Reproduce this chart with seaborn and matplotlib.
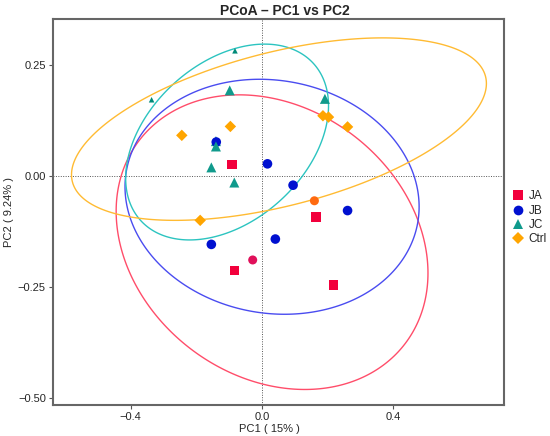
import numpy as np
import pandas as pd
import seaborn as sns
import matplotlib
matplotlib.use("Agg")
import matplotlib.pyplot as plt
from matplotlib.lines import Line2D

# sample scores
groups = ["JA", "JB", "JC", "Ctrl"]

ja_x = [-0.091, 0.165, -0.084, 0.219]
ja_y = [0.025, -0.092, -0.213, -0.245]

jb_x = [0.017, 0.095, 0.261, -0.154, 0.041]
jb_y = [0.027, -0.021, -0.078, -0.154, -0.142]

jc_x = [-0.098, 0.192, -0.154, -0.084, -0.140]
jc_y = [0.192, 0.173, 0.019, -0.015, 0.078]

# the stacked pair at the left (triangle / circle / triangle)
stack_grp = ["JB", "JC"]
stack_x = [-0.139, -0.140]
stack_y = [0.076, 0.066]

ctrl_x = [-0.244, -0.096, 0.186, 0.203, 0.261, -0.188]
ctrl_y = [0.091, 0.111, 0.135, 0.132, 0.110, -0.100]

# tiny JC glyphs sitting on the ellipses
jc_small_x = [-0.336, -0.082]
jc_small_y = [0.171, 0.281]

# overlapping points that render as blended circles
blend_x = [-0.028, 0.160]
blend_y = [-0.189, -0.056]

# confidence ellipses: centre, half extent in x / y, correlation
ell_cx = [0.031, 0.031, -0.106, 0.052]
ell_cy = [-0.149, -0.047, 0.076, 0.105]
ell_sx = [0.475, 0.448, 0.309, 0.632]
ell_sy = [0.331, 0.264, 0.220, 0.205]
ell_r = [-0.21, -0.085, 0.37, 0.50]

pal = {"JA": "#f2003c", "JB": "#0010d0", "JC": "#109a8c", "Ctrl": "#ffa500"}
ell_col = {"JA": "#ff4d6a", "JB": "#4a4cf0", "JC": "#2cc4c0", "Ctrl": "#ffbb33"}
marks = {"JA": "s", "JB": "o", "JC": "^", "Ctrl": "D"}
msize = {"JA": 46, "JB": 48, "JC": 52, "Ctrl": 34}
blend_col = ["#e0105a", "#ff6a10"]

rows = []
for g, xs, ys in [("JA", ja_x, ja_y), ("JB", jb_x, jb_y), ("JC", jc_x, jc_y), ("Ctrl", ctrl_x, ctrl_y)]:
    for x, y in zip(xs, ys):
        rows.append((g, x, y))
for g, x, y in zip(stack_grp, stack_x, stack_y):
    rows.append((g, x, y))
df = pd.DataFrame(rows, columns=["group", "PC1", "PC2"])

sns.set_style("white")
plt.rcParams["font.family"] = ["Liberation Sans", "DejaVu Sans"]

fig = plt.figure(figsize=(5.5, 4.36), dpi=100)
ax = fig.add_axes([0.096, 0.072, 0.82, 0.885])

ax.axhline(0, color="#555555", lw=0.7, ls=(0, (1, 1.5)), zorder=1)
ax.axvline(0, color="#555555", lw=0.7, ls=(0, (1, 1.5)), zorder=1)

t = np.linspace(0, 2 * np.pi, 300)
for i, g in enumerate(groups):
    ex = ell_cx[i] + ell_sx[i] * np.cos(t)
    ey = ell_cy[i] + ell_sy[i] * (ell_r[i] * np.cos(t) + np.sqrt(1 - ell_r[i] ** 2) * np.sin(t))
    ax.fill(ex, ey, fill=False, edgecolor=ell_col[g], lw=1.0, zorder=2)

sns.scatterplot(data=df, x="PC1", y="PC2", hue="group", style="group", size="group",
                hue_order=groups, style_order=groups, size_order=groups, palette=pal,
                markers=marks, sizes=msize, edgecolor="none", linewidth=0, legend=False,
                ax=ax, zorder=3)
sns.scatterplot(x=jc_small_x, y=jc_small_y, marker="^", color="#008a78", s=16,
                edgecolor="none", linewidth=0, ax=ax, zorder=3)
ax.scatter(blend_x, blend_y, marker="o", c=blend_col, s=42, edgecolors="none", zorder=3)

ax.set_xlim(-0.637, 0.737)
ax.set_ylim(-0.514, 0.353)
ax.set_xticks([-0.4, 0.0, 0.4])
ax.set_yticks([0.25, 0.0, -0.25, -0.5])
ax.set_xticklabels(["\u22120.4", "0.0", "0.4"])
ax.set_yticklabels(["0.25", "0.00", "\u22120.25", "\u22120.50"])
ax.tick_params(axis="both", length=3, width=0.8, color="#555555", labelsize=8, direction="out",
               bottom=True, left=True, pad=2)
for sp in ax.spines.values():
    sp.set_color("#666666")
    sp.set_linewidth(1.5)

ax.set_xlabel("PC1 ( 15% )", fontsize=8, labelpad=3)
ax.xaxis.set_label_coords(0.481, -0.05)
ax.set_ylabel("PC2 ( 9.24% )", fontsize=8, labelpad=3)
ax.set_title("PCoA \u2013 PC1 vs PC2", fontsize=10, fontweight="bold", pad=3, x=0.515)

handles = [Line2D([], [], ls="none", marker=marks[g], color=pal[g], markersize=7 if g != "Ctrl" else 6,
                  markeredgewidth=0) for g in groups]
ax.legend(handles, groups, loc="center left", bbox_to_anchor=(1.0, 0.484), frameon=False,
          fontsize=8.5, handletextpad=0.3, labelspacing=0.2, borderaxespad=0.2, handlelength=1.2)

fig.savefig("out.png", dpi=100)
